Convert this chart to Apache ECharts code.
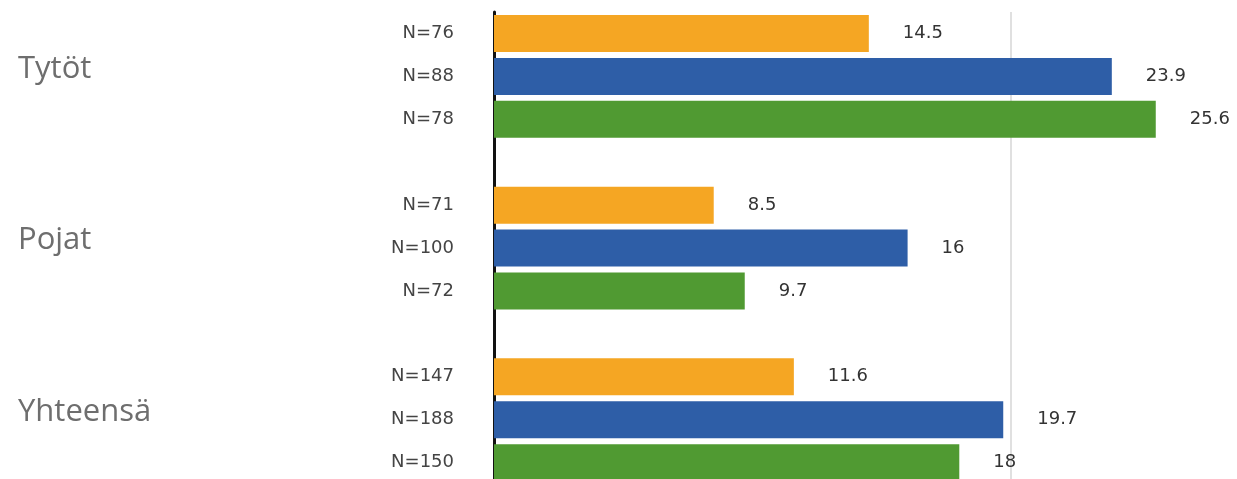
<!DOCTYPE html>
<html>
<head>
<meta charset="utf-8">
<script src="https://cdn.jsdelivr.net/npm/echarts@6/dist/echarts.min.js"></script>
<style>
html,body{margin:0;padding:0;background:#fff;}
#chart{width:1237px;height:479px;}
</style>
</head>
<body>
<div id="chart"></div>
<script>
// ---- data ----
const groups = ['Tytöt', 'Pojat', 'Yhteensä'];
const valuesOrange = [14.5, 8.5, 11.6];
const valuesBlue = [23.9, 16, 19.7];
const valuesGreen = [25.6, 9.7, 18];
const nOrange = [76, 71, 147];
const nBlue = [88, 100, 188];
const nGreen = [78, 72, 150];
const xTicks = [0, 20, 40];

// ---- build rows (3 bars + spacer per group) ----
const rows = [];
const dataO = [], dataB = [], dataG = [];
groups.forEach((g, i) => {
  rows.push('N=' + nOrange[i], 'N=' + nBlue[i], 'N=' + nGreen[i], '');
  dataO.push(valuesOrange[i], '-', '-', '-');
  dataB.push('-', valuesBlue[i], '-', '-');
  dataG.push('-', '-', valuesGreen[i], '-');
});

const labelStyle = {
  show: true, position: 'right', distance: 34,
  fontFamily: 'DejaVu Sans', fontSize: 18, color: '#333'
};
function mkSeries(name, data, color) {
  return {
    name, type: 'bar', data, barWidth: 37, barGap: '-100%',
    itemStyle: { color }, label: labelStyle, animation: false
  };
}

const chart = echarts.init(document.getElementById('chart'), null, { renderer: 'canvas' });
chart.setOption({
  animation: false,
  grid: { left: 494, top: 12, width: 1034, height: 515, outerBoundsMode: 'none', containLabel: false },
  xAxis: {
    type: 'value', min: xTicks[0], max: xTicks[xTicks.length - 1], interval: 20,
    axisLabel: { show: false }, axisLine: { show: false }, axisTick: { show: false },
    splitLine: { show: true, lineStyle: { color: '#d6d6d6', width: 1.5 } }
  },
  yAxis: [
    {
      type: 'category', data: rows, inverse: true,
      axisLine: { show: true, lineStyle: { color: '#111', width: 3 } },
      axisTick: { show: false },
      axisLabel: { margin: 40, fontFamily: 'DejaVu Sans', fontSize: 18, color: '#444' }
    },
    {
      type: 'category', data: groups, inverse: true, position: 'left',
      axisLine: { show: false }, axisTick: { show: false },
      axisLabel: {
        margin: 476, align: 'left', verticalAlign: 'bottom', lineHeight: 58,
        fontFamily: 'Open Sans', fontSize: 31, color: '#6e6e6e'
      }
    }
  ],
  series: [
    mkSeries('Oranssi', dataO, '#F5A623'),
    mkSeries('Sininen', dataB, '#2E5EA7'),
    mkSeries('Vihreä', dataG, '#509A32')
  ]
});
</script>
</body>
</html>
